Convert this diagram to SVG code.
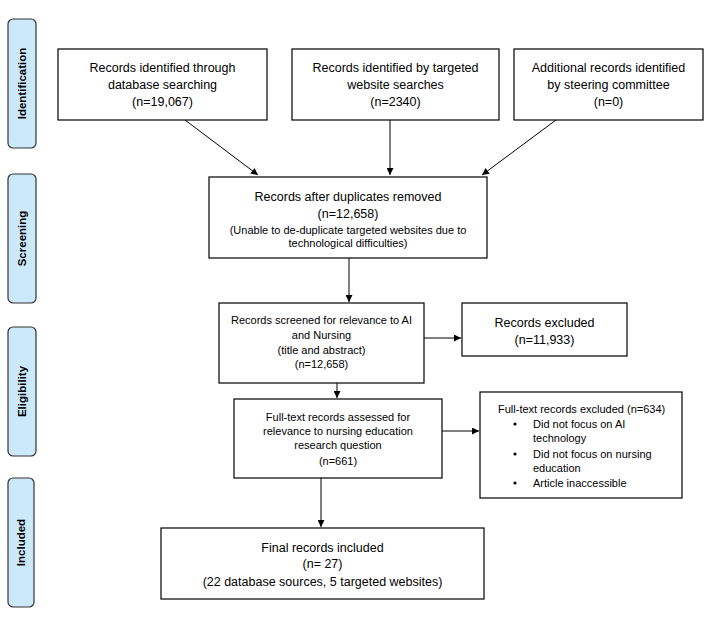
<svg xmlns="http://www.w3.org/2000/svg" width="712" height="620" viewBox="0 0 712 620">
<style>
.box{fill:#fff;stroke:#000;stroke-width:1.2}
.side{fill:#cce9fb;stroke:#333;stroke-width:1.2}
.st{font-family:"Liberation Sans",Arial,sans-serif;font-weight:bold;font-size:11.5px;fill:#000;text-anchor:middle}
.t{font-family:"Liberation Sans",Arial,sans-serif;font-size:12.5px;fill:#000;text-anchor:middle}
.s{font-family:"Liberation Sans",Arial,sans-serif;font-size:11px;fill:#000;text-anchor:middle}
.l{font-family:"Liberation Sans",Arial,sans-serif;font-size:11px;fill:#000}
.c{stroke:#000;stroke-width:1;fill:none;marker-end:url(#ah)}
</style>
<defs>
<marker id="ah" viewBox="0 0 10 10" refX="10" refY="5" markerWidth="7" markerHeight="7" markerUnits="userSpaceOnUse" orient="auto">
<path d="M0,0 L10,5 L0,10 z" fill="#000"/>
</marker>
</defs>
<rect width="712" height="620" fill="#fff"/>
<g id="side-identification"><rect class="side" x="8" y="19" width="28" height="129" rx="5"/><text class="st" transform="translate(26,83.5) rotate(-90)">Identification</text></g>
<g id="side-screening"><rect class="side" x="8" y="174" width="28" height="129" rx="5"/><text class="st" transform="translate(26,238.5) rotate(-90)">Screening</text></g>
<g id="side-eligibility"><rect class="side" x="8" y="327" width="28" height="129" rx="5"/><text class="st" transform="translate(26,391.5) rotate(-90)">Eligibility</text></g>
<g id="side-included"><rect class="side" x="8" y="478" width="26" height="129" rx="5"/><text class="st" transform="translate(25,542.5) rotate(-90)">Included</text></g>

<g id="connectors">
<line class="c" x1="185" y1="120" x2="258" y2="175"/>
<line class="c" x1="390" y1="120" x2="390" y2="175"/>
<line class="c" x1="556" y1="120" x2="482" y2="175"/>
<line class="c" x1="349" y1="258" x2="349" y2="302"/>
<line class="c" x1="424" y1="338" x2="461" y2="338"/>
<line class="c" x1="337" y1="383" x2="337" y2="398"/>
<line class="c" x1="442" y1="431" x2="479" y2="431"/>
<line class="c" x1="321" y1="478" x2="321" y2="527" stroke="#666"/>
</g>

<g id="box-database"><rect class="box" x="58" y="49" width="209" height="71"/>
<text class="t" x="162.5" y="72">Records identified  through</text>
<text class="t" x="162.5" y="89">database searching</text>
<text class="t" x="162.5" y="106">(n=19,067)</text></g>
<g id="box-website"><rect class="box" x="292" y="49" width="207" height="71"/>
<text class="t" x="395.5" y="72">Records identified  by targeted</text>
<text class="t" x="395.5" y="89">website searches</text>
<text class="t" x="395.5" y="106">(n=2340)</text></g>
<g id="box-steering"><rect class="box" x="514" y="49" width="189" height="71"/>
<text class="t" x="608.5" y="72">Additional records identified</text>
<text class="t" x="608.5" y="89">by steering committee</text>
<text class="t" x="608.5" y="106">(n=0)</text></g>
<g id="box-duplicates"><rect class="box" x="209" y="177" width="278" height="81"/>
<text class="t" x="348" y="201">Records after duplicates  removed</text>
<text class="t" x="348" y="218">(n=12,658)</text>
<text class="s" x="348" y="234">(Unable to de-duplicate targeted websites due to</text>
<text class="s" x="348" y="247">technological difficulties)</text></g>
<g id="box-screened"><rect class="box" x="219" y="303" width="205" height="80"/>
<text class="s" x="321.5" y="324">Records screened for relevance to AI</text>
<text class="s" x="321.5" y="339">and Nursing</text>
<text class="s" x="321.5" y="354">(title and abstract)</text>
<text class="s" x="321.5" y="368">(n=12,658)</text></g>
<g id="box-excluded"><rect class="box" x="462" y="303" width="165" height="53"/>
<text class="t" x="544.5" y="327">Records excluded</text>
<text class="t" x="544.5" y="344">(n=11,933)</text></g>
<g id="box-fulltext"><rect class="box" x="234" y="399" width="208" height="79"/>
<text class="s" x="338" y="421">Full-text records assessed for</text>
<text class="s" x="338" y="435">relevance to nursing education</text>
<text class="s" x="338" y="449">research question</text>
<text class="s" x="338" y="465">(n=661)</text></g>
<g id="box-fulltext-excluded"><rect class="box" x="480" y="392" width="202" height="106"/>
<text class="l" x="498" y="413">Full-text records excluded (n=634)</text>
<circle cx="515" cy="424" r="1.6"/><text class="l" x="533" y="428">Did not focus on AI</text>
<text class="l" x="533" y="442">technology</text>
<circle cx="515" cy="454" r="1.6"/><text class="l" x="533" y="458">Did not focus on nursing</text>
<text class="l" x="533" y="472">education</text>
<circle cx="515" cy="483" r="1.6"/><text class="l" x="533" y="487">Article inaccessible</text></g>
<g id="box-final"><rect class="box" x="161" y="528" width="323" height="71"/>
<text class="t" x="322.5" y="552">Final records included</text>
<text class="t" x="322.5" y="568">(n= 27)</text>
<text class="t" x="322.5" y="586">(22 database sources, 5 targeted websites)</text></g>
</svg>
